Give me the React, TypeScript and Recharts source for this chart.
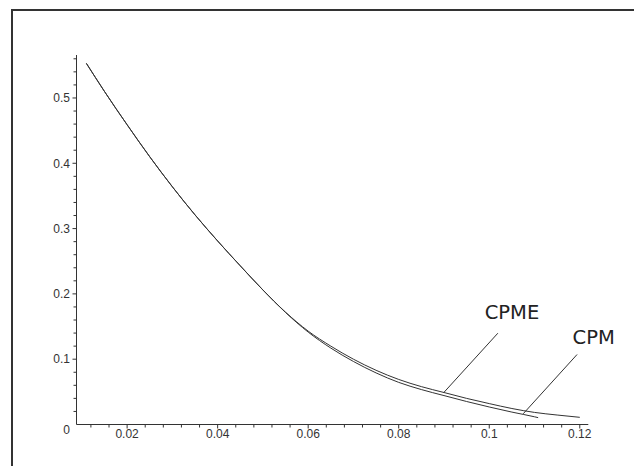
import React from 'react';
import { LineChart, Line, XAxis, YAxis, ReferenceLine, ReferenceDot } from 'recharts';

// curve samples
const cpmeX = [0.011, 0.015, 0.02, 0.025, 0.03, 0.035, 0.04, 0.045, 0.05, 0.055, 0.06, 0.065, 0.07, 0.075, 0.08, 0.085, 0.09, 0.095, 0.1, 0.105, 0.11, 0.115, 0.12];
const cpmeY = [0.553, 0.51, 0.459, 0.41, 0.364, 0.321, 0.281, 0.243, 0.206, 0.172, 0.143, 0.12, 0.1, 0.083, 0.069, 0.058, 0.049, 0.04, 0.032, 0.0245, 0.0185, 0.0145, 0.011];

const cpmX = [0.011, 0.015, 0.02, 0.025, 0.03, 0.035, 0.04, 0.045, 0.05, 0.055, 0.06, 0.065, 0.07, 0.075, 0.08, 0.085, 0.09, 0.095, 0.1, 0.105, 0.11, 0.1108];
const cpmY = [0.553, 0.51, 0.459, 0.41, 0.364, 0.321, 0.281, 0.243, 0.206, 0.1715, 0.1415, 0.117, 0.0965, 0.079, 0.0645, 0.0535, 0.0443, 0.0352, 0.0268, 0.019, 0.0118, 0.0105];

// axis ticks
const xMajorTicks = [0.02, 0.04, 0.06, 0.08, 0.1, 0.12];
const xTickLabels = ['0.02', '0.04', '0.06', '0.08', '0.1', '0.12'];
const yMajorTicks = [0, 0.1, 0.2, 0.3, 0.4, 0.5];
const yTickLabels = ['0', '0.1', '0.2', '0.3', '0.4', '0.5'];
const xMinorTicks = Array.from({ length: 28 }, (_, i) => +(0.012 + i * 0.004).toFixed(3));
const yMinorTicks = Array.from({ length: 29 }, (_, i) => +(i * 0.02).toFixed(2));

const X_DOMAIN: [number, number] = [0.00882, 0.12188];
const Y_DOMAIN: [number, number] = [0, 0.5658];

// annotation labels and pointers (data coords)
const cpmeLabel = { x: 0.099, y: 0.161, text: 'CPME' };
const cpmLabel = { x: 0.1184, y: 0.1236, text: 'CPM' };
const cpmePointer = [{ x: 0.1019, y: 0.1398 }, { x: 0.0899, y: 0.0485 }];
const cpmPointer = [{ x: 0.1194, y: 0.1072 }, { x: 0.1075, y: 0.0164 }];

const cpmeData = cpmeX.map((x, i) => ({ x, y: cpmeY[i] }));
const cpmData = cpmX.map((x, i) => ({ x, y: cpmY[i] }));

const INK = '#333';
const TICK_FONT = '"Liberation Sans", Arial, sans-serif';
const NOTE_FONT = '"DejaVu Sans", Verdana, sans-serif';

const findIndex = (list: number[], v: number) => list.findIndex(m => Math.abs(m - v) < 1e-9);

const XTick = (props: any) => {
  const { x, y, payload } = props;
  const idx = findIndex(xMajorTicks, payload.value);
  return (
    <g>
      <line x1={x} y1={y} x2={x} y2={y + (idx >= 0 ? 4 : 3)} stroke={INK} strokeWidth={1} />
      {idx >= 0 && (
        <text x={x} y={y + 13} textAnchor="middle" fontSize={12} fontFamily={TICK_FONT} fill={INK}>
          {xTickLabels[idx]}
        </text>
      )}
    </g>
  );
};

const YTick = (props: any) => {
  const { x, y, payload } = props;
  const idx = findIndex(yMajorTicks, payload.value);
  const isZero = payload.value === 0;
  return (
    <g>
      {!isZero && <line x1={x} y1={y} x2={x - (idx >= 0 ? 4 : 3)} y2={y} stroke={INK} strokeWidth={1} />}
      {idx >= 0 && (
        <text x={x - 6.5} y={y + (isZero ? 9 : 4.3)} textAnchor="end" fontSize={12} fontFamily={TICK_FONT} fill={INK}>
          {yTickLabels[idx]}
        </text>
      )}
    </g>
  );
};

const noteShape = (text: string) => (p: any) => (
  <text x={p.cx} y={p.cy} fontSize={19.5} fontFamily={NOTE_FONT} fill="#222">
    {text}
  </text>
);

export default function App() {
  return (
    <div style={{ position: 'absolute', left: 0, top: 0, width: 634, height: 466, overflow: 'hidden', background: '#fff' }}>
      <div
        style={{
          position: 'absolute',
          left: 11,
          top: 9,
          width: 700,
          height: 600,
          borderTop: `2px solid ${INK}`,
          borderLeft: `2px solid ${INK}`,
        }}
      />
      <div style={{ position: 'absolute', left: 0, top: 0 }}>
        <LineChart width={634} height={466} margin={{ top: 55, right: 45.7, bottom: 11.5, left: 16.5 }}>
          <XAxis
            type="number"
            dataKey="x"
            domain={X_DOMAIN}
            allowDataOverflow
            ticks={xMinorTicks}
            interval={0}
            height={30}
            tickSize={0}
            tickMargin={0}
            tickLine={false}
            axisLine={{ stroke: INK, strokeWidth: 1 }}
            tick={<XTick />}
          />
          <YAxis
            type="number"
            dataKey="y"
            domain={Y_DOMAIN}
            allowDataOverflow
            ticks={yMinorTicks}
            interval={0}
            width={60}
            tickSize={0}
            tickMargin={0}
            tickLine={false}
            axisLine={{ stroke: INK, strokeWidth: 1 }}
            tick={<YTick />}
          />
          <Line data={cpmeData} dataKey="y" type="monotone" stroke={INK} strokeWidth={1} dot={false} isAnimationActive={false} />
          <Line data={cpmData} dataKey="y" type="monotone" stroke={INK} strokeWidth={1} dot={false} isAnimationActive={false} />
          <ReferenceLine segment={cpmePointer} stroke={INK} strokeWidth={1} />
          <ReferenceLine segment={cpmPointer} stroke={INK} strokeWidth={1} />
          <ReferenceDot x={cpmeLabel.x} y={cpmeLabel.y} r={0} shape={noteShape(cpmeLabel.text)} />
          <ReferenceDot x={cpmLabel.x} y={cpmLabel.y} r={0} shape={noteShape(cpmLabel.text)} />
        </LineChart>
      </div>
    </div>
  );
}
